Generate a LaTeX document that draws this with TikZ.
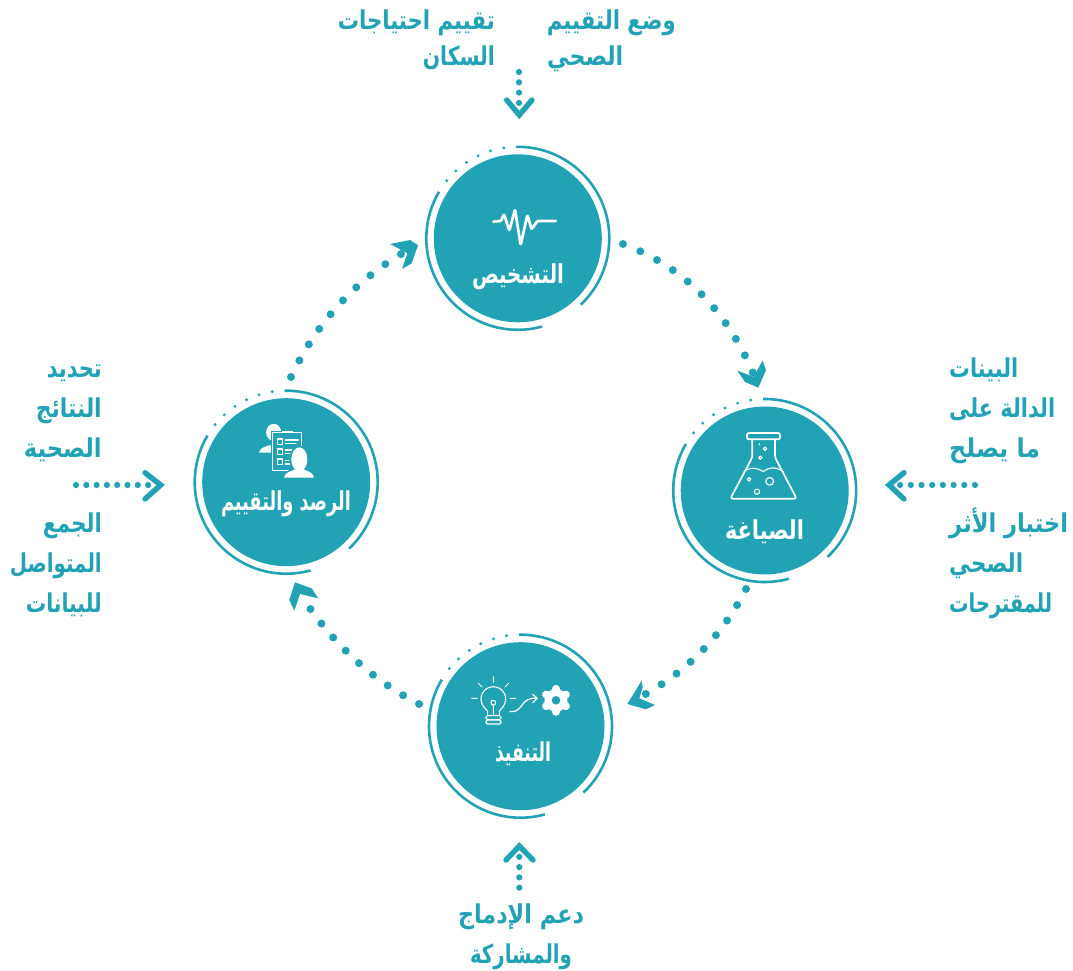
\documentclass[tikz,border=0pt]{standalone}
\usepackage{graphicx}
\usepackage{fontspec}
\newfontfamily\arabicfont[Script=Arabic]{DejaVu Sans}
\TeXXeTstate=1
\definecolor{teal1}{HTML}{21A2B5}
\newcommand{\artxt}[2]{\resizebox{#1pt}{1\height}{\arabicfont\bfseries\fontsize{26}{30}\selectfont #2}}
\newcommand{\ringparts}[1]{%
  \draw[ringline] (#1.center) ++(91:91.5pt) arc[start angle=91,end angle=-46.5,radius=91.5pt];
  \draw[ringline] (#1.center) ++(-74.6:91.5pt) arc[start angle=-74.6,end angle=-210.6,radius=91.5pt];
  \foreach \a in {98.8,107.3,115.7,124.1,132.6,141}{\fill[teal1] (#1.center) ++(\a:91.5pt) circle (1.6pt);}
}
\tikzset{
  x=1pt,y=-1pt,
  disc/.style={circle,fill=teal1,draw=none,minimum size=168pt,inner sep=0pt},
  ringline/.style={draw=teal1,line width=2.6pt},
  bigdots/.style={draw=teal1,line width=8pt,line cap=round,dash pattern=on 0pt off #1pt},
  smalldots/.style={draw=teal1,line width=6.2pt,line cap=round,dash pattern=on 0pt off #1pt},
  chev/.style={draw=teal1,line width=5.4pt,line cap=round,line join=miter},
  head/.style={fill=teal1,draw=none},
  txt/.style={inner sep=0pt,text=teal1},
  lbl/.style={inner sep=0pt,text=white,anchor=base},
  icon/.style={draw=white,line width=1.7pt,line cap=round,line join=round},
  zoomunits/.style={x=0.33333pt,y=-0.33333pt},
}
\begin{document}
\begin{tikzpicture}
\useasboundingbox (0,0) rectangle (1073,971);
% discs
\node[disc] (top) at (517.8,238.3) {};
\node[disc] (right) at (764.7,490.5) {};
\node[disc] (bottom) at (520.5,726.2) {};
\node[disc] (left) at (286.2,482.2) {};
\ringparts{top}\ringparts{right}\ringparts{bottom}\ringparts{left}
% disc labels
\node[lbl] (ltop) at (518,283) {\artxt{92}{\beginR التشخيص\endR}};
\node[lbl] (lright) at (764.5,539) {\artxt{79}{\beginR الصياغة\endR}};
\node[lbl] (lbottom) at (523,761) {\artxt{56}{\beginR التنفيذ\endR}};
\node[lbl] (lleft) at (286,510) {\artxt{130}{\beginR الرصد والتقييم\endR}};
% curved dotted connectors
\coordinate (c1s) at (623,244); \coordinate (c1e) at (753,373);
\coordinate (c2s) at (746,589); \coordinate (c2e) at (644,695);
\coordinate (c3s) at (419,704); \coordinate (c3e) at (309,607);
\coordinate (c4s) at (291,377); \coordinate (c4e) at (401,254);
\draw[bigdots=18.8] (c1s) .. controls (682,266) and (726,309) .. (c1e);
\draw[bigdots=18.4] (c2s) .. controls (723,634) and (689,670) .. (c2e);
\draw[bigdots=18.2] (c3s) .. controls (374,681) and (338,648) .. (c3e);
\draw[bigdots=18.6] (c4s) .. controls (315.5,325) and (351.5,284) .. (c4e);
% filled arrowheads
\begin{scope}[zoomunits,shift={(620pt,-340pt)}]
  \fill[head] (352,92) -- (400,110) -- (428,62) -- (438,90) -- (415,143) -- (375,126) -- cycle;
  \fill[head] (65,1022) -- (22,1092) -- (78,1108) -- (105,1095) -- (58,1075) -- (68,1042) -- cycle;
\end{scope}
\begin{scope}[zoomunits,shift={(280pt,-570pt)}]
  \fill[head] (45,37) -- (28,90) -- (43,122) -- (60,72) -- (115,85) -- (95,55) -- cycle;
\end{scope}
\begin{scope}[zoomunits,shift={(180pt,-220pt)}]
  \fill[head] (630,72) -- (690,60) -- (714,76) -- (695,130) -- (666,147) -- (682,100) -- cycle;
\end{scope}
% outer straight connectors
\coordinate (d1s) at (519,72); \coordinate (d1e) at (519,103.5);
\coordinate (d2s) at (519.3,887.7); \coordinate (d2e) at (519.3,856);
\coordinate (d3s) at (975,485); \coordinate (d3e) at (899,485);
\coordinate (d4s) at (76,485); \coordinate (d4e) at (149,485);
\draw[smalldots=10.3] (d1s) -- (d1e);
\draw[smalldots=10.3] (d2s) -- (d2e);
\draw[smalldots=10.7] (d3s) -- (d3e);
\draw[smalldots=10.3] (d4s) -- (d4e);
\draw[chev] (506.7,100) -- (519.3,115) -- (532,100);
\draw[chev] (506,860) -- (519.3,846) -- (533,860);
\draw[chev] (904,472.7) -- (889,485) -- (904,499);
\draw[chev] (145,472.7) -- (160.7,485) -- (145,499);
% texts top
\node[txt,anchor=base east] (t1) at (676,30) {\artxt{129}{\beginR وضع التقييم\endR}};
\node[txt,anchor=base west] (t2) at (547,66) {\artxt{76}{\beginR الصحي\endR}};
\node[txt,anchor=base east] (t3) at (495,30) {\artxt{157}{\beginR تقييم احتياجات\endR}};
\node[txt,anchor=base east] (t4) at (495,66) {\artxt{72}{\beginR السكان\endR}};
% texts right
\node[txt,anchor=base west] (r1) at (949,377) {\artxt{69}{\beginR البينات\endR}};
\node[txt,anchor=base west] (r2) at (949,417) {\artxt{106}{\beginR الدالة على\endR}};
\node[txt,anchor=base west] (r3) at (949,457) {\artxt{91}{\beginR ما يصلح\endR}};
\node[txt,anchor=base west] (r4) at (949,532) {\artxt{119}{\beginR اختبار الأثر\endR}};
\node[txt,anchor=base west] (r5) at (949,572) {\artxt{74}{\beginR الصحي\endR}};
\node[txt,anchor=base west] (r6) at (949,612) {\artxt{103}{\beginR للمقترحات\endR}};
% texts left
\node[txt,anchor=base east] (l1) at (102,377) {\artxt{55}{\beginR تحديد\endR}};
\node[txt,anchor=base east] (l2) at (102,417) {\artxt{66}{\beginR النتائج\endR}};
\node[txt,anchor=base east] (l3) at (102,457) {\artxt{78}{\beginR الصحية\endR}};
\node[txt,anchor=base east] (l4) at (102,532) {\artxt{59}{\beginR الجمع\endR}};
\node[txt,anchor=base east] (l5) at (102,572) {\artxt{92}{\beginR المتواصل\endR}};
\node[txt,anchor=base east] (l6) at (102,612) {\artxt{76}{\beginR للبيانات\endR}};
% texts bottom
\node[txt,anchor=base] (b1) at (521,923) {\artxt{126}{\beginR دعم الإدماج\endR}};
\node[txt,anchor=base] (b2) at (521,963) {\artxt{102}{\beginR والمشاركة\endR}};
% pulse icon
\begin{scope}[zoomunits,shift={(400pt,-130pt)}]
  \draw[icon,line width=2.7pt,rounded corners=1pt] (280,275) -- (303,273) -- (312,252) -- (328,302) -- (345,238) -- (362,345) -- (382,255) -- (395,298) -- (412,273) -- (467,273);
\end{scope}
% flask icon
\begin{scope}[zoomunits,shift={(620pt,-340pt)}]
  \draw[icon,rounded corners=2pt] (381,279) rectangle (480,298);
  \draw[icon,rounded corners=2.5pt] (397,298) -- (397,352) -- (331,476) -- (530,476) -- (465,352) -- (465,298);
  \draw[icon,line width=1.1pt] (372,395) .. controls (390,380) and (410,382) .. (430,395) .. controls (445,382) and (465,378) .. (490,395);
  \draw[icon,line width=1.1pt] (435,326) circle (1.7pt) (421,353) circle (1.7pt) (387,418) circle (1.8pt) (449,424) circle (3.9pt) (411,455) circle (2.6pt);
  \fill[white] (418,313) circle (1pt);
\end{scope}
% bulb and gear icon
\begin{scope}[zoomunits,shift={(420pt,-625pt)}]
  \draw[icon,line width=1.1pt] (203,270) -- (203,258) .. controls (195,250) and (183,240) .. (183,222) .. controls (183,200) and (200,185) .. (220,185) .. controls (240,185) and (257,200) .. (257,222) .. controls (257,240) and (245,250) .. (238,258) -- (238,270);
  \draw[icon,line width=1.1pt] (220,233) circle (2.4pt) (220,240) -- (220,270);
  \draw[icon,line width=1.1pt,rounded corners=1.5pt] (198,272) rectangle (243,284);
  \draw[icon,line width=1.1pt,rounded corners=1.5pt] (198,285) rectangle (243,297);
  \draw[icon,line width=1pt] (220,155) -- (220,172) (175,175) -- (186,186) (266,175) -- (255,186) (155,220) -- (172,220) (270,220) -- (287,220);
  \draw[icon,line width=1.2pt] (270,260) .. controls (310,265) and (300,215) .. (350,220) (338,208) -- (352,220) -- (338,233);
  \fill[white] (408,226) circle (11.5pt);
  \foreach \a in {30,90,150,210,270,330}{\draw[white,line width=8pt,line cap=round] (408,226) -- ++(\a:11.5pt);}
  \fill[teal1] (408,226) circle (4.3pt);
\end{scope}
% clipboard and people icon
\begin{scope}[zoomunits,shift={(180pt,-220pt)}]
  \fill[white] (281,637) ellipse (7.5pt and 8.5pt);
  \fill[white] (237,698) .. controls (240,682) and (258,680) .. (270,675) -- (290,698) -- cycle;
  \fill[teal1] (272,632) rectangle (369,756);
  \draw[icon,line width=1.5pt] (278,637) rectangle (364,752);
  \fill[white] (306,632) rectangle (338,639);
  \draw[icon,line width=1.1pt] (292,657) rectangle (308,673) (292,687) rectangle (308,703) (292,717) rectangle (308,733);
  \draw[icon,line width=1.3pt] (316,660) -- (355,660) (316,670) -- (348,670) (316,690) -- (350,690) (316,700) -- (340,700) (316,722) -- (335,722) (316,732) -- (335,732);
  \fill[teal1] (358,718) ellipse (10pt and 14pt);
  \fill[teal1] (304,778) .. controls (308,755) and (330,750) .. (345,742) -- (372,742) .. controls (388,750) and (408,755) .. (410,778) -- cycle;
  \fill[white] (358,718) ellipse (8pt and 12pt);
  \fill[white] (312,773) .. controls (314,757) and (332,755) .. (345,748) -- (371,748) .. controls (384,755) and (400,757) .. (402,773) -- cycle;
\end{scope}
\end{tikzpicture}
\end{document}
